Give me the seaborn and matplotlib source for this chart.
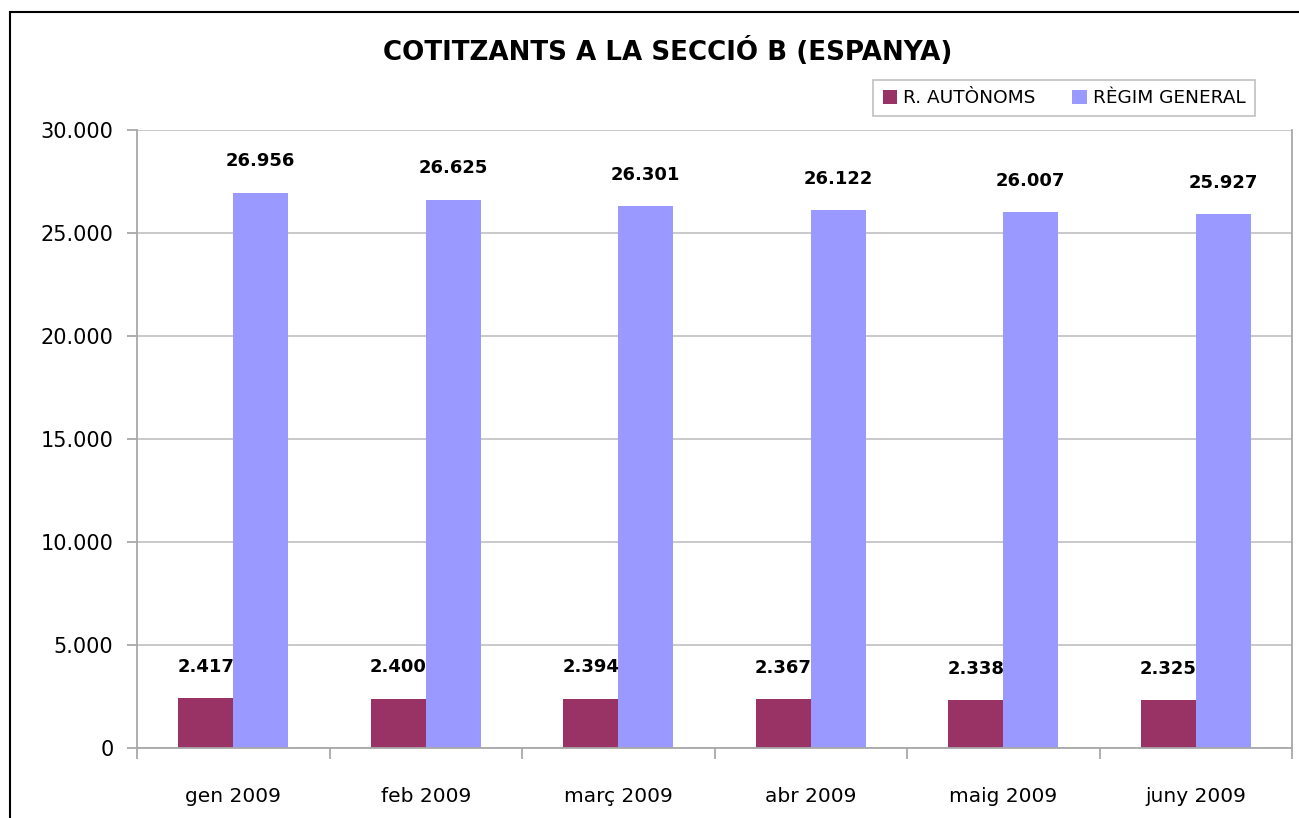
import matplotlib
matplotlib.use("Agg")
import matplotlib.pyplot as plt
import seaborn as sns
import pandas as pd
from matplotlib.patches import Rectangle, Patch
from matplotlib.ticker import FuncFormatter, MultipleLocator

months = ["gen 2009", "feb 2009", "març 2009", "abr 2009", "maig 2009", "juny 2009"]
series_names = ["R. AUTÒNOMS", "RÈGIM GENERAL"]
autonoms = [2417, 2400, 2394, 2367, 2338, 2325]
general = [26956, 26625, 26301, 26122, 26007, 25927]
colors = ["#993366", "#9999FF"]
title = "COTITZANTS A LA SECCIÓ B (ESPANYA)"

df = pd.DataFrame({
    "mes": months * 2,
    "serie": [series_names[0]] * len(months) + [series_names[1]] * len(months),
    "valor": autonoms + general,
})

sns.set_theme(style="white")
plt.rcParams['font.family'] = ['DejaVu Sans']
plt.rcParams['text.color'] = 'black'

W, H = 1299, 818
fig = plt.figure(figsize=(W / 100, H / 100), dpi=100)
ax = fig.add_axes([137 / W, 1 - 748 / H, (1292 - 137) / W, (748 - 130) / H])

sns.barplot(data=df, x="mes", y="valor", hue="serie", palette=colors,
            width=0.57, gap=0, saturation=1, ax=ax, legend=False, linewidth=0)

ax.set_ylim(0, 30000)
ax.set_xlim(-0.5, len(months) - 0.5)
ax.yaxis.set_major_locator(MultipleLocator(5000))
ax.yaxis.set_major_formatter(FuncFormatter(lambda v, p: f"{int(v):,}".replace(",", ".")))
ax.grid(axis="y", color="#C0C0C0", linewidth=1.2)
ax.set_axisbelow(True)
for s in ["left", "bottom", "right"]:
    ax.spines[s].set_visible(True)
    ax.spines[s].set_color("#A8A8A8")
    ax.spines[s].set_linewidth(1.3)
ax.spines["top"].set_visible(False)
ax.set_xlabel("")
ax.set_ylabel("")
ax.tick_params(axis="y", labelsize=15, length=7, color="#A8A8A8", width=1.3, left=True, pad=10)
ax.tick_params(axis="x", labelsize=14.5, length=0, pad=28)
for t in ax.get_xticklabels() + ax.get_yticklabels():
    t.set_color("black")
ax.set_xticks([i + 0.5 for i in range(-1, len(months))], minor=True)
ax.tick_params(axis="x", which="minor", length=8, color="#A8A8A8", width=1.3, bottom=True)

for cont in ax.containers:
    labels = [f"{int(v):,}".replace(",", ".") for v in cont.datavalues]
    ax.bar_label(cont, labels=labels, padding=16, fontsize=13, fontweight="bold", color="black")

fig.text(668 / W, 1 - 52 / H, title, ha="center", va="center", fontsize=18.8,
         fontweight="bold", color="black")

handles = [Patch(facecolor=c, edgecolor="none") for c in colors]
leg = fig.legend(handles, series_names, loc="center", bbox_to_anchor=(1064 / W, 1 - 98 / H),
                 ncol=2, fontsize=13.3, frameon=True, fancybox=False, handlelength=0.8,
                 handleheight=0.8, handletextpad=0.3, columnspacing=2.0, borderpad=0.5)
leg.get_frame().set_edgecolor("#B0B0B0")
leg.get_frame().set_linewidth(1.2)
for t in leg.get_texts():
    t.set_color("black")

fig.patches.append(Rectangle((9.5 / W, -0.1), 1.2, 1 - 12.5 / H + 0.1, transform=fig.transFigure,
                             fill=False, edgecolor="black", linewidth=1.5, figure=fig))

fig.savefig("out.png", dpi=100)
